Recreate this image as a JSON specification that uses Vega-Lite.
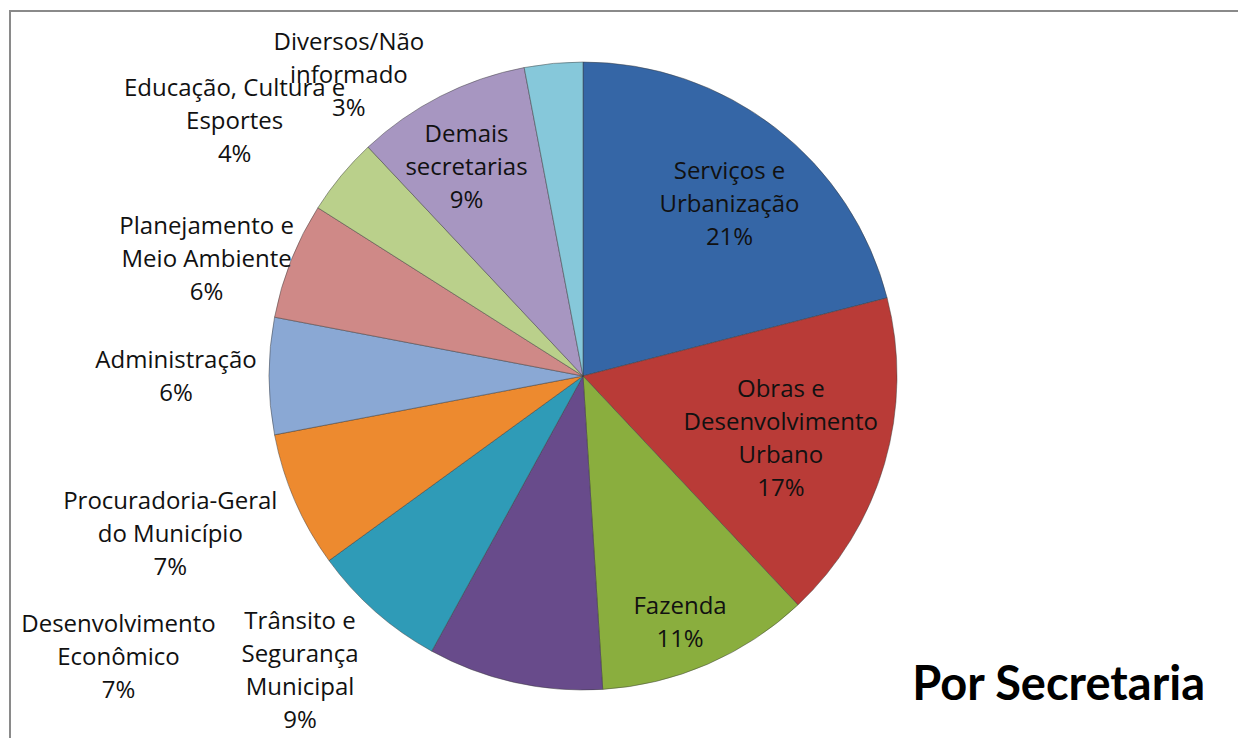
{
  "$schema": "https://vega.github.io/schema/vega-lite/v6.json",
  "autosize": "none",
  "width": 1232,
  "height": 731,
  "padding": {"left": 10, "top": 11, "right": -4, "bottom": -4},
  "background": "#ffffff",
  "view": {
    "stroke": {"gradient": "linear", "x1": 0, "y1": 0, "x2": 1, "y2": 1, "stops": [{"offset": 0, "color": "#8a8a8a"}, {"offset": 0.5, "color": "#8a8a8a"}, {"offset": 0.5, "color": "#ffffff"}, {"offset": 1, "color": "#ffffff"}]},
    "strokeWidth": 2,
    "fill": null
  },
  "config": {
    "text": {"font": "Open Sans", "fontSize": 24, "lineHeight": 33, "color": "#111111", "align": "center", "baseline": "middle"}
  },
  "datasets": {
    "secretarias": [
      {"i": 1, "secretaria": "Serviços e Urbanização", "valor": 21, "label": ["Serviços e", "Urbanização", "21%"]},
      {"i": 2, "secretaria": "Obras e Desenvolvimento Urbano", "valor": 17, "label": ["Obras e", "Desenvolvimento", "Urbano", "17%"]},
      {"i": 3, "secretaria": "Fazenda", "valor": 11, "label": ["Fazenda", "11%"]},
      {"i": 4, "secretaria": "Trânsito e Segurança Municipal", "valor": 9, "label": ["Trânsito e", "Segurança", "Municipal", "9%"]},
      {"i": 5, "secretaria": "Desenvolvimento Econômico", "valor": 7, "label": ["Desenvolvimento", "Econômico", "7%"]},
      {"i": 6, "secretaria": "Procuradoria-Geral do Município", "valor": 7, "label": ["Procuradoria-Geral", "do Município", "7%"]},
      {"i": 7, "secretaria": "Administração", "valor": 6, "label": ["Administração", "6%"]},
      {"i": 8, "secretaria": "Planejamento e Meio Ambiente", "valor": 6, "label": ["Planejamento e", "Meio Ambiente", "6%"]},
      {"i": 9, "secretaria": "Educação, Cultura e Esportes", "valor": 4, "label": ["Educação, Cultura e", "Esportes", "4%"]},
      {"i": 10, "secretaria": "Demais secretarias", "valor": 9, "label": ["Demais", "secretarias", "9%"]},
      {"i": 11, "secretaria": "Diversos/Não informado", "valor": 3, "label": ["Diversos/Não", "informado", "3%"]}
    ],
    "titulo": [{"t": "Por Secretaria"}]
  },
  "layer": [
    {
      "data": {"name": "secretarias"},
      "encoding": {
        "theta": {"field": "valor", "type": "quantitative", "stack": true},
        "order": {"field": "i", "type": "quantitative"}
      },
      "layer": [
        {
          "mark": {"type": "arc", "outerRadius": 314, "xOffset": -43, "yOffset": -0.5, "stroke": "#3a3a3a", "strokeWidth": 0.8, "strokeOpacity": 0.6},
          "encoding": {
            "color": {
              "field": "secretaria",
              "type": "nominal",
              "legend": null,
              "scale": {
                "domain": ["Serviços e Urbanização", "Obras e Desenvolvimento Urbano", "Fazenda", "Trânsito e Segurança Municipal", "Desenvolvimento Econômico", "Procuradoria-Geral do Município", "Administração", "Planejamento e Meio Ambiente", "Educação, Cultura e Esportes", "Demais secretarias", "Diversos/Não informado"],
                "range": ["#3566a6", "#b93b37", "#8aae3e", "#684b8b", "#2f9bb7", "#ed8a2f", "#8aa8d4", "#cf8987", "#bad08b", "#a796c1", "#86c8da"]
              }
            }
          }
        },
        {"mark": {"type": "text", "xOffset": -43, "yOffset": -0.5, "radius": 226, "dx": 8, "dy": -25}, "encoding": {"text": {"condition": {"test": "datum.i == 1", "field": "label"}, "value": ""}}},
        {"mark": {"type": "text", "xOffset": -43, "yOffset": -0.5, "radius": 206, "dy": -43}, "encoding": {"text": {"condition": {"test": "datum.i == 2", "field": "label"}, "value": ""}}},
        {"mark": {"type": "text", "xOffset": -43, "yOffset": -0.5, "radius": 262, "dx": -7, "dy": -9}, "encoding": {"text": {"condition": {"test": "datum.i == 3", "field": "label"}, "value": ""}}},
        {"mark": {"type": "text", "xOffset": -43, "yOffset": -0.5, "radius": 330, "dx": -211, "dy": -76}, "encoding": {"text": {"condition": {"test": "datum.i == 4", "field": "label"}, "value": ""}}},
        {"mark": {"type": "text", "xOffset": -43, "yOffset": -0.5, "radius": 400, "dx": -200, "dy": -51}, "encoding": {"text": {"condition": {"test": "datum.i == 5", "field": "label"}, "value": ""}}},
        {"mark": {"type": "text", "xOffset": -43, "yOffset": -0.5, "radius": 441, "dx": -8, "dy": -49}, "encoding": {"text": {"condition": {"test": "datum.i == 6", "field": "label"}, "value": ""}}},
        {"mark": {"type": "text", "xOffset": -43, "yOffset": -0.5, "radius": 407, "dy": -15}, "encoding": {"text": {"condition": {"test": "datum.i == 7", "field": "label"}, "value": ""}}},
        {"mark": {"type": "text", "xOffset": -43, "yOffset": -0.5, "radius": 393, "dx": -11, "dy": -4}, "encoding": {"text": {"condition": {"test": "datum.i == 8", "field": "label"}, "value": ""}}},
        {"mark": {"type": "text", "xOffset": -43, "yOffset": -0.5, "radius": 430, "dx": -17, "dy": -13}, "encoding": {"text": {"condition": {"test": "datum.i == 9", "field": "label"}, "value": ""}}},
        {"mark": {"type": "text", "xOffset": -43, "yOffset": -0.5, "radius": 239, "dx": -8, "dy": -28}, "encoding": {"text": {"condition": {"test": "datum.i == 10", "field": "label"}, "value": ""}}},
        {"mark": {"type": "text", "xOffset": -43, "yOffset": -0.5, "radius": 320, "dx": -204, "dy": -14}, "encoding": {"text": {"condition": {"test": "datum.i == 11", "field": "label"}, "value": ""}}}
      ]
    },
    {
      "data": {"name": "titulo"},
      "mark": {"type": "text", "x": "width", "y": "height", "align": "right", "baseline": "alphabetic", "dx": -37, "dy": -42, "font": "Lato", "fontSize": 47, "fontWeight": "bold", "color": "#000000"},
      "encoding": {"text": {"field": "t", "type": "nominal"}}
    }
  ]
}
